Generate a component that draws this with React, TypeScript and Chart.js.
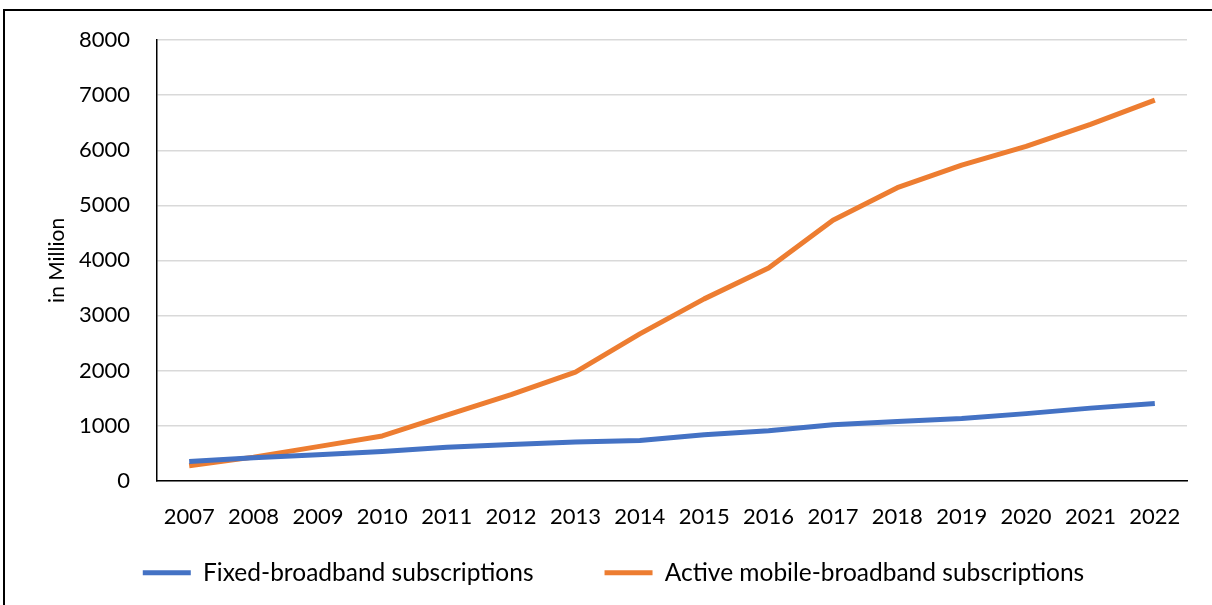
import React, { useEffect, useRef } from "react";
import { Chart, registerables } from "chart.js";

Chart.register(...registerables);

const years = ["2007","2008","2009","2010","2011","2012","2013","2014","2015","2016","2017","2018","2019","2020","2021","2022"];
const fixedBroadband = [346, 415, 470, 527, 605, 655, 700, 725, 830, 905, 1015, 1070, 1125, 1215, 1315, 1400];
const mobileBroadband = [268, 425, 615, 810, 1190, 1560, 1970, 2665, 3300, 3860, 4730, 5320, 5730, 6070, 6470, 6910];
const yMin = 0;
const yMax = 8000;
const yStep = 1000;

const FONT = "Lato, 'Liberation Sans', sans-serif";

export default function App() {
  const ref = useRef<HTMLCanvasElement>(null);
  useEffect(() => {
    const canvas = ref.current;
    if (!canvas) return;
    const chart = new Chart(canvas, {
      type: "line",
      data: {
        labels: years,
        datasets: [
          {
            label: "Fixed-broadband subscriptions",
            data: fixedBroadband,
            borderColor: "#4472C4",
            backgroundColor: "#4472C4",
            borderWidth: 5,
            pointRadius: 0,
            borderJoinStyle: "round",
            tension: 0,
          },
          {
            label: "Active mobile-broadband subscriptions",
            data: mobileBroadband,
            borderColor: "#ED7D31",
            backgroundColor: "#ED7D31",
            borderWidth: 5,
            pointRadius: 0,
            borderJoinStyle: "round",
            tension: 0,
          },
        ],
      },
      options: {
        animation: false,
        responsive: false,
        maintainAspectRatio: false,
        layout: { padding: { left: 40, right: 25, top: 31, bottom: 10 } },
        plugins: {
          tooltip: { enabled: false },
          legend: {
            position: "bottom",
            labels: {
              color: "#000",
              font: { family: FONT, size: 24.5 },
              boxWidth: 48,
              boxHeight: 5,
              padding: 71,
              generateLabels: (ch: any) =>
                ch.data.datasets.map((ds: any, i: number) => ({
                  text: ds.label,
                  fillStyle: ds.borderColor,
                  strokeStyle: ds.borderColor,
                  lineWidth: 0,
                  fontColor: "#000",
                  hidden: false,
                  datasetIndex: i,
                })),
            },
          },
        },
        scales: {
          x: {
            offset: true,
            grid: { display: false, drawTicks: false },
            border: { color: "#000", width: 1.5 },
            ticks: { color: "#000", font: { family: FONT, size: 22 }, padding: 23, maxRotation: 0, autoSkip: false },
            afterFit: (scale: any) => {
              scale.height = 9;
              scale._computeLabelArea = () => undefined;
            },
          },
          y: {
            min: yMin,
            max: yMax,
            grid: { color: "#D9D9D9", lineWidth: 1.5, drawTicks: false },
            border: { color: "#000", width: 1.5 },
            ticks: {
              stepSize: yStep,
              color: "#000",
              font: { family: FONT, size: 22 },
              padding: 27,
              callback: (v: any) => String(v),
            },
            title: {
              display: true,
              text: "in Million",
              color: "#000",
              font: { family: FONT, size: 21 },
              padding: { top: 5, bottom: 4 },
            },
            afterFit: (scale: any) => {
              scale.width = 117;
            },
          },
        },
      },
    });
    return () => chart.destroy();
  }, []);

  return (
    <div style={{ position: "fixed", left: 0, top: 0, width: 1212, height: 605, background: "#fff", overflow: "hidden" }}>
      <div style={{ position: "absolute", left: 3, top: 9, width: 1240, height: 700, border: "2px solid #000", boxSizing: "border-box" }} />
      <canvas ref={ref} width={1212} height={605} style={{ position: "absolute", left: 0, top: 0 }} />
    </div>
  );
}
